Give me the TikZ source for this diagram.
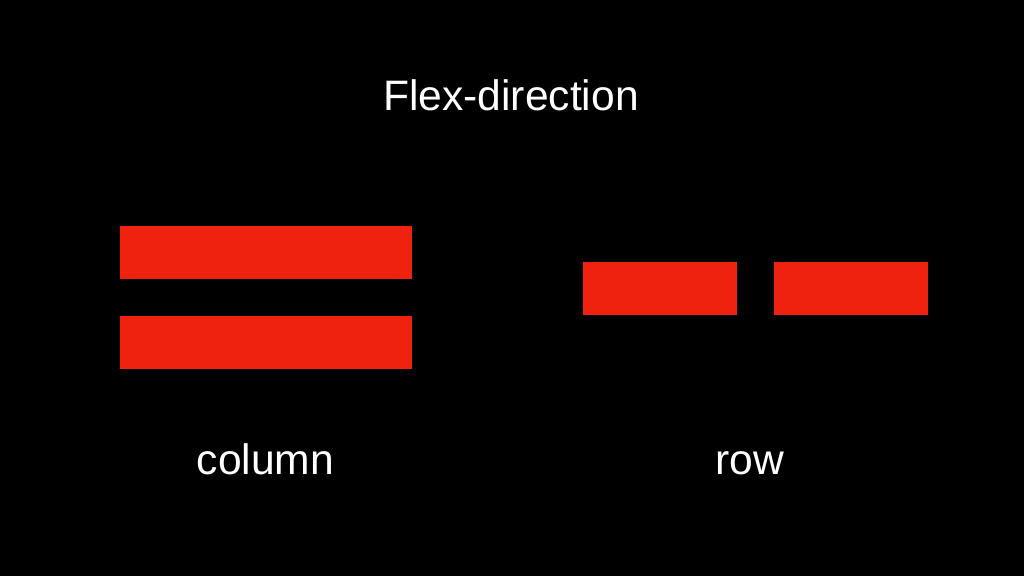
\documentclass[tikz,border=0pt]{standalone}
\usepackage{fontspec}
\setmainfont{Liberation Sans}
\definecolor{barred}{HTML}{EE220E}
\begin{document}
\begin{tikzpicture}[x=1pt,y=-1pt,
  bar/.style={fill=barred,draw=none,inner sep=0pt,outer sep=0pt},
  lbl/.style={text=white,font=\fontsize{42.6}{50}\selectfont,anchor=base,inner sep=0pt}]
\fill[black] (0,0) rectangle (1024,576);
\useasboundingbox (0,0) rectangle (1024,576);
\node[lbl] (title) at (511,110) {Flex-direction};
\fill[bar] (120,225.5) rectangle (412,278.5) coordinate (c1);
\fill[bar] (120,315.5) rectangle (412,368.5) coordinate (c2);
\fill[bar] (583,261.5) rectangle (737,314.5) coordinate (r1);
\fill[bar] (774,261.5) rectangle (928,314.5) coordinate (r2);
\node[lbl] (column) at (265.5,474) {column};
\node[lbl] (row) at (750,474) {row};
\end{tikzpicture}
\end{document}
